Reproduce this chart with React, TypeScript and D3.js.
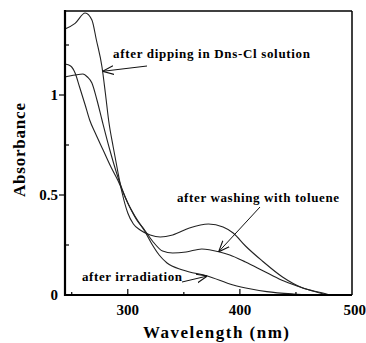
import React, { useEffect, useRef } from 'react';
import * as d3 from 'd3';

// wavelength (nm), absorbance
const dipping: [number, number][] = [
    [244, 1.33], [253, 1.358], [262, 1.41], [268, 1.375], [272, 1.275], [277, 1.14], [280, 1.01],
    [283, 0.87], [287, 0.74], [291, 0.62], [295, 0.51], [300, 0.41], [305, 0.355], [311, 0.325],
    [320, 0.30], [329, 0.29], [340, 0.30], [355, 0.335], [372, 0.355], [385, 0.34], [394, 0.31],
    [405, 0.245], [420, 0.17], [438, 0.09], [456, 0.035], [474, 0.01], [480, 0]
];
const washing: [number, number][] = [
    [244, 1.155], [249, 1.145], [253, 1.11], [257, 1.04], [262, 0.95], [266, 0.875], [271, 0.81],
    [278, 0.725], [285, 0.64], [291, 0.575], [300, 0.46], [308, 0.375], [315, 0.325], [322, 0.27],
    [331, 0.22], [340, 0.21], [352, 0.215], [366, 0.23], [382, 0.215], [391, 0.2], [405, 0.165],
    [421, 0.12], [437, 0.075], [451, 0.045], [465, 0.02], [478, 0]
];
const irradiation: [number, number][] = [
    [244, 1.09], [253, 1.10], [260, 1.105], [264, 1.09], [268, 1.06], [272.5, 0.975], [277, 0.875],
    [284, 0.725], [290, 0.61], [300, 0.46], [308, 0.38], [315, 0.32], [322, 0.25], [328, 0.20],
    [335, 0.16], [349, 0.125], [371, 0.095], [394, 0.05], [410, 0.03], [424, 0.017], [448, 0.005], [465, 0]
];

const xMajor = [300, 400, 500];
const xMinor = [250, 350, 450];
const yMajor = [0, 0.5, 1];
const yMinor = [0.25, 0.75, 1.25];

function App() {
    const ref = useRef<SVGSVGElement>(null);

    useEffect(() => {
        const svg = d3.select(ref.current);
        svg.selectAll('*').remove();

        const width = 366, height = 343;
        const margin = { top: 11, right: 14, bottom: 48, left: 65 };
        const font = '"Liberation Serif", "Times New Roman", serif';

        const x = d3.scaleLinear().domain([244, 500]).range([margin.left, width - margin.right]);
        const y = d3.scaleLinear().domain([0, 1.42]).range([height - margin.bottom, margin.top]);

        svg.append('defs').append('marker')
            .attr('id', 'arr')
            .attr('viewBox', '0 0 10 10')
            .attr('refX', 10).attr('refY', 5)
            .attr('markerWidth', 11).attr('markerHeight', 11)
            .attr('markerUnits', 'userSpaceOnUse')
            .attr('orient', 'auto')
            .append('path')
            .attr('d', 'M0,1 L10,5 L0,9')
            .attr('fill', 'none')
            .attr('stroke', '#111')
            .attr('stroke-width', 1);

        const line = d3.line<[number, number]>()
            .x(d => x(d[0]))
            .y(d => y(d[1]))
            .curve(d3.curveMonotoneX);

        const g = svg.append('g');
        [dipping, washing, irradiation].forEach(s => {
            g.append('path')
                .attr('d', line(s) as string)
                .attr('fill', 'none')
                .attr('stroke', '#222')
                .attr('stroke-width', 1.1);
        });

        // frame
        const x0 = x(244), x1 = x(500), y0 = y(0), y1 = y(1.42);
        svg.append('line').attr('x1', x0).attr('x2', x1).attr('y1', y1).attr('y2', y1).attr('stroke', '#000').attr('stroke-width', 1.5);
        svg.append('line').attr('x1', x1).attr('x2', x1).attr('y1', y1).attr('y2', y0).attr('stroke', '#000').attr('stroke-width', 1.5);
        svg.append('line').attr('x1', x0).attr('x2', x1).attr('y1', y0).attr('y2', y0).attr('stroke', '#000').attr('stroke-width', 2.2);
        svg.append('line').attr('x1', x0).attr('x2', x0).attr('y1', y1 - 1).attr('y2', y0 + 1).attr('stroke', '#000').attr('stroke-width', 2.2);

        // x ticks (inward)
        svg.selectAll('.xmaj').data(xMajor.filter(d => d < 500)).enter().append('line')
            .attr('x1', d => x(d)).attr('x2', d => x(d)).attr('y1', y0).attr('y2', y0 - 6)
            .attr('stroke', '#000').attr('stroke-width', 1.2);
        svg.selectAll('.xmin').data(xMinor).enter().append('line')
            .attr('x1', d => x(d)).attr('x2', d => x(d)).attr('y1', y0).attr('y2', y0 - 3)
            .attr('stroke', '#000').attr('stroke-width', 1.2);
        svg.selectAll('.xlab').data(xMajor).enter().append('text')
            .attr('x', d => d === 500 ? 366 : x(d)).attr('y', y0 + 20)
            .attr('text-anchor', d => d === 500 ? 'end' : 'middle')
            .style('font-family', font).style('font-weight', 'bold').style('font-size', '15px')
            .text(d => d);

        // y ticks (major outward, minor inward)
        svg.selectAll('.ymaj').data(yMajor.filter(d => d > 0)).enter().append('line')
            .attr('x1', x0).attr('x2', x0 - 6).attr('y1', d => y(d)).attr('y2', d => y(d))
            .attr('stroke', '#000').attr('stroke-width', 1.2);
        svg.selectAll('.ymin').data(yMinor).enter().append('line')
            .attr('x1', x0).attr('x2', x0 + 4).attr('y1', d => y(d)).attr('y2', d => y(d))
            .attr('stroke', '#000').attr('stroke-width', 1.2);
        svg.selectAll('.ylab').data(yMajor).enter().append('text')
            .attr('x', x0 - 7).attr('y', d => y(d) + 5)
            .attr('text-anchor', 'end')
            .style('font-family', font).style('font-weight', 'bold').style('font-size', '15px')
            .text(d => d);

        // axis titles
        svg.append('text')
            .attr('x', 143).attr('y', 338)
            .attr('textLength', 146).attr('lengthAdjust', 'spacing')
            .style('font-family', font).style('font-weight', 'bold').style('font-size', '17px')
            .text('Wavelength (nm)');
        svg.append('text')
            .attr('transform', `translate(25, 197) rotate(-90)`)
            .attr('textLength', 94).attr('lengthAdjust', 'spacing')
            .style('font-family', font).style('font-weight', 'bold').style('font-size', '17px')
            .text('Absorbance');

        // annotations
        const notes = [
            { text: 'after dipping in Dns-Cl solution', tx: 113, ty: 58, len: 197, from: [147, 66], to: [dipping, 277.5] },
            { text: 'after washing with toluene', tx: 177, ty: 202, len: 162, from: [260, 207], to: [washing, 381] },
            { text: 'after irradiation', tx: 82, ty: 281, len: 100, from: [182, 282], to: [irradiation, 371] }
        ];
        notes.forEach(n => {
            svg.append('text')
                .attr('x', n.tx).attr('y', n.ty)
                .attr('textLength', n.len).attr('lengthAdjust', 'spacing')
                .style('font-family', font).style('font-weight', 'bold').style('font-size', '13px')
                .text(n.text);
            const series = n.to[0] as [number, number][];
            const wl = n.to[1] as number;
            const i = d3.bisector((d: [number, number]) => d[0]).left(series, wl);
            const a = series[Math.max(i - 1, 0)], b = series[i];
            const t = (wl - a[0]) / (b[0] - a[0] || 1);
            const val = a[1] + t * (b[1] - a[1]);
            svg.append('line')
                .attr('x1', n.from[0]).attr('y1', n.from[1])
                .attr('x2', x(wl)).attr('y2', y(val))
                .attr('stroke', '#111').attr('stroke-width', 1)
                .attr('marker-end', 'url(#arr)');
        });
    }, []);

    return (
        <svg ref={ref} width={366} height={343}
            style={{ position: 'absolute', left: 0, top: 0, background: '#fff' }}></svg>
    );
}

export default App;
